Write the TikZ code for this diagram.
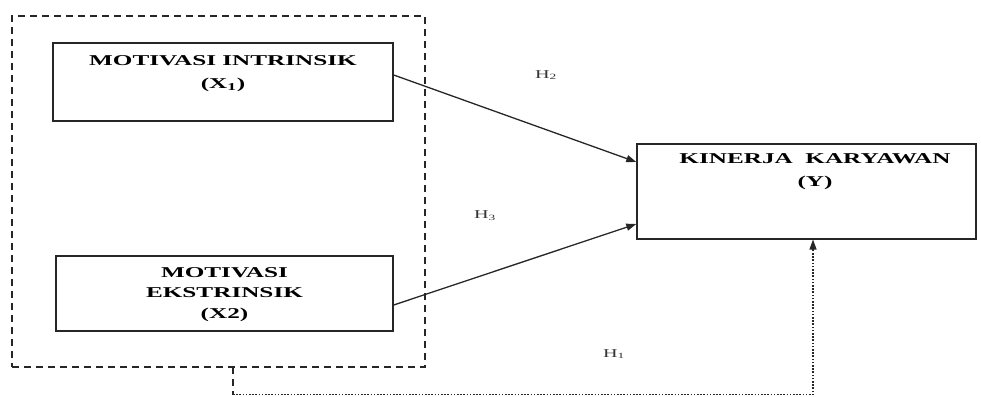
\documentclass[tikz,border=0pt]{standalone}
\usepackage{fontspec}
\setmainfont{Liberation Serif}
\newfontfamily\widefont{Liberation Serif}[FakeStretch=1.68]
\usetikzlibrary{arrows.meta,calc}
\tikzset{
  varbox/.style={draw=black!85, line width=1.4pt, rectangle, inner sep=0pt},
  boxtext/.style={inner sep=0pt, align=center, anchor=north, font=\widefont\bfseries\fontsize{15}{23}\selectfont},
  hlabel/.style={inner sep=0pt, text=black!80, font=\widefont\fontsize{12}{13}\selectfont},
  groupbox/.style={draw=black!85, line width=1.4pt, dash pattern=on 7pt off 5pt, rectangle, inner sep=0pt},
  arr/.style={draw=black!85, line width=1.3pt, -{Triangle[length=10pt,width=7pt]}},
  dashline/.style={draw=black!85, line width=1.4pt, dash pattern=on 7pt off 5pt},
  dotline/.style={draw=black!85, line width=1.6pt, dash pattern=on 1.6pt off 1.6pt},
}
\begin{document}
\begin{tikzpicture}[x=1pt,y=-1pt]
\useasboundingbox (0,0) rectangle (981,396);
% group frame
\node[groupbox, minimum width=413pt, minimum height=351pt] (grp) at (218.5,191.5) {};
% boxes
\node[varbox, minimum width=340pt, minimum height=78pt] (x1) at (223,82) {};
\node[boxtext] (x1t) at (223,55) {MOTIVASI INTRINSIK\\(X\textsubscript{1})};
\node[varbox, minimum width=337pt, minimum height=75pt] (x2) at (224.5,293.5) {};
\node[boxtext, font=\widefont\bfseries\fontsize{15}{20.5}\selectfont] (x2t) at (224.5,267) {MOTIVASI\\EKSTRINSIK\\(X2)};
\node[varbox, minimum width=339pt, minimum height=95pt] (y) at (806.5,191.5) {};
\node[boxtext] (yt) at (815,153) {KINERJA\ \ KARYAWAN\\(Y)};
% labels
\node[hlabel] (h2) at (546,75) {H\textsubscript{2}};
\node[hlabel] (h3) at (485,216) {H\textsubscript{3}};
\node[hlabel] (h1) at (614,354) {H\textsubscript{1}};
% arrows
\draw[arr] ($(x1.east)+(0,-7)$) -- ($(y.west)+(0,-29.5)$);
\draw[arr] ($(x2.east)+(0,11.5)$) -- ($(y.west)+(0,32.5)$);
% simultaneous path
\coordinate (gs) at (233,367);
\coordinate (b1) at (233,394.5);
\coordinate (b2) at (813,394.5);
\coordinate (ys) at (813,239.5);
\draw[dashline] (gs) -- (b1);
\draw[dotline] (b1) -- (b2) -- ($(ys)+(0,10)$);
\draw[arr] ($(ys)+(0,10)$) -- (ys);
\end{tikzpicture}
\end{document}
